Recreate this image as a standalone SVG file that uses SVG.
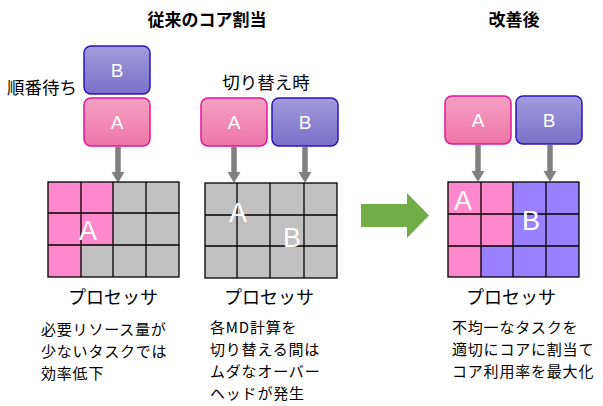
<svg xmlns="http://www.w3.org/2000/svg" width="603" height="406" viewBox="0 0 603 406">
<defs>
<linearGradient id="gA" x1="0" y1="0" x2="0" y2="1"><stop offset="0" stop-color="#F5A0C2"/><stop offset="1" stop-color="#EE76A8"/></linearGradient>
<linearGradient id="gB" x1="0" y1="0" x2="0" y2="1"><stop offset="0" stop-color="#A29CDC"/><stop offset="1" stop-color="#7B6FC8"/></linearGradient>
</defs>
<style>
text{font-family:"Noto Sans CJK JP","Liberation Sans",sans-serif;fill:#000}
.t{font-size:17px;font-weight:bold;text-anchor:middle}
.l{font-size:15px;letter-spacing:0.8px}
.h{font-size:17.5px}
.p{font-size:18px;text-anchor:middle}
.bx{font-size:19px;fill:#fff;text-anchor:middle;font-family:"Liberation Sans",sans-serif}
.big{font-size:27px;fill:#fff;text-anchor:middle;font-family:"Liberation Sans",sans-serif}
.ba{fill:url(#gA);stroke:#E0169A;stroke-width:1.5}
.bb{fill:url(#gB);stroke:#2C14B8;stroke-width:1.5}
.g{stroke:#000;stroke-width:1.3}
.pk{fill:#FF88CC}.gy{fill:#C0C0C0}.pu{fill:#9980FF}
.ar{stroke:#808080;stroke-width:5.5;fill:none}
.ah{fill:#808080}
</style>

<text class="t" x="207" y="26">従来のコア割当</text>
<text class="t" x="514" y="26">改善後</text>
<text class="h" x="7" y="94">順番待ち</text>
<text class="h" x="266" y="89" text-anchor="middle">切り替え時</text>

<g id="nodeB1"><rect class="bb" x="84" y="46" width="66" height="48" rx="7"/><text class="bx" x="117" y="77">B</text></g>
<g id="nodeA1"><rect class="ba" x="84" y="98" width="66" height="48" rx="7"/><text class="bx" x="117" y="129">A</text></g>
<g id="nodeA2"><rect class="ba" x="201" y="98" width="66" height="48" rx="7"/><text class="bx" x="234" y="129">A</text></g>
<g id="nodeB2"><rect class="bb" x="272" y="98" width="66" height="48" rx="7"/><text class="bx" x="305" y="129">B</text></g>
<g id="nodeA3"><rect class="ba" x="445" y="96" width="66" height="48" rx="7"/><text class="bx" x="478" y="127">A</text></g>
<g id="nodeB3"><rect class="bb" x="516" y="96" width="66" height="48" rx="7"/><text class="bx" x="549" y="127">B</text></g>

<g id="connectors">
<line class="ar" x1="118" y1="147" x2="118" y2="173"/><path class="ah" d="M111.5,172 L124.5,172 L118,183 Z"/>
<line class="ar" x1="234" y1="147" x2="234" y2="173"/><path class="ah" d="M227.5,172 L240.5,172 L234,183 Z"/>
<line class="ar" x1="305" y1="147" x2="305" y2="173"/><path class="ah" d="M298.5,172 L311.5,172 L305,183 Z"/>
<line class="ar" x1="478" y1="145" x2="478" y2="172"/><path class="ah" d="M471.5,171 L484.5,171 L478,182 Z"/>
<line class="ar" x1="550" y1="145" x2="550" y2="172"/><path class="ah" d="M543.5,171 L556.5,171 L550,182 Z"/>
<path d="M361,204 L407,204 L407,193 L429,215.5 L407,238 L407,227 L361,227 Z" fill="#70AD47"/>
</g>

<g id="proc1">
<rect class="gy" x="48" y="182" width="131" height="95"/>
<rect class="pk" x="48" y="182" width="65" height="63"/>
<rect class="pk" x="48" y="245" width="33" height="32"/>
<g class="g" fill="none">
<rect x="48" y="182" width="131" height="95"/>
<line x1="81" y1="182" x2="81" y2="277"/><line x1="113" y1="182" x2="113" y2="277"/><line x1="146" y1="182" x2="146" y2="277"/>
<line x1="48" y1="213" x2="179" y2="213"/><line x1="48" y1="245" x2="179" y2="245"/>
</g>
<text class="big" x="88" y="240">A</text>
</g>

<g id="proc2">
<rect class="gy" x="205" y="183" width="132" height="95"/>
<g class="g" fill="none">
<rect x="205" y="183" width="132" height="95"/>
<line x1="237" y1="183" x2="237" y2="278"/><line x1="270" y1="183" x2="270" y2="278"/><line x1="304" y1="183" x2="304" y2="278"/>
<line x1="205" y1="215" x2="337" y2="215"/><line x1="205" y1="246" x2="337" y2="246"/>
</g>
<text class="big" x="238" y="222">A</text>
<text class="big" x="292" y="247">B</text>
</g>

<g id="proc3">
<rect class="pu" x="448" y="182" width="131" height="95"/>
<rect class="pk" x="448" y="182" width="65" height="64"/>
<rect class="pk" x="448" y="246" width="33" height="31"/>
<g class="g" fill="none">
<rect x="448" y="182" width="131" height="95"/>
<line x1="481" y1="182" x2="481" y2="277"/><line x1="513" y1="182" x2="513" y2="277"/><line x1="546" y1="182" x2="546" y2="277"/>
<line x1="448" y1="214" x2="579" y2="214"/><line x1="448" y1="246" x2="579" y2="246"/>
</g>
<text class="big" x="463" y="210">A</text>
<text class="big" x="531" y="230">B</text>
</g>

<text class="p" x="113" y="304">プロセッサ</text>
<text class="p" x="269" y="304">プロセッサ</text>
<text class="p" x="511" y="304">プロセッサ</text>

<text class="l"><tspan x="41" y="335">必要リソース量が</tspan><tspan x="41" y="357">少ないタスクでは</tspan><tspan x="41" y="379">効率低下</tspan></text>

<text class="l"><tspan x="210" y="333">各MD計算を</tspan><tspan x="210" y="355">切り替える間は</tspan><tspan x="210" y="377">ムダなオーバー</tspan><tspan x="210" y="399">ヘッドが発生</tspan></text>

<text class="l"><tspan x="452" y="333">不均一なタスクを</tspan><tspan x="452" y="355">適切にコアに割当て</tspan><tspan x="452" y="377">コア利用率を最大化</tspan></text>
</svg>
